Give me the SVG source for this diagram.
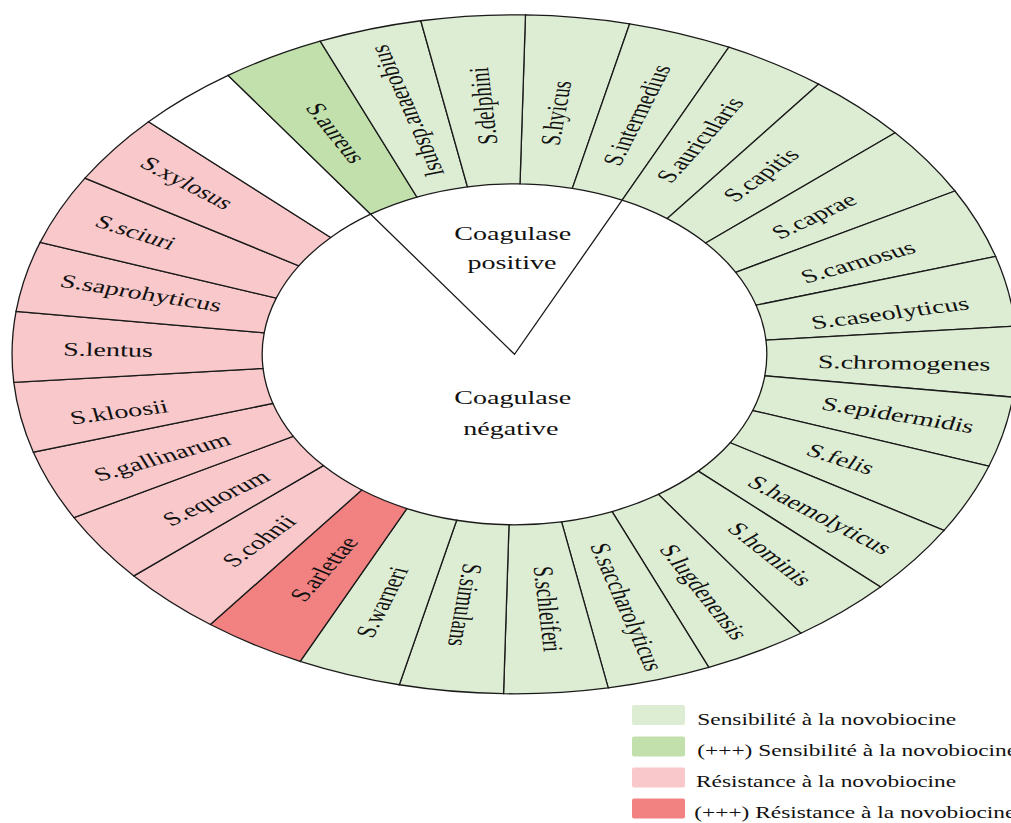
<svg xmlns="http://www.w3.org/2000/svg" width="1011" height="823" viewBox="0 0 1011 823">
  <style>
    .lbl { font-family: "Liberation Serif", "Times New Roman", serif; font-size: 19px; fill: #111; text-anchor: middle; dominant-baseline: central; }
    .cap { font-family: "Liberation Serif", "Times New Roman", serif; font-size: 19px; fill: #111; text-anchor: middle; }
    .leg { font-family: "Liberation Serif", "Times New Roman", serif; font-size: 15.8px; fill: #111; }
    .sens { fill: #DDEDD3; }
    .sens3 { fill: #C1E0AB; }
    .res { fill: #F8C8CA; }
    .res3 { fill: #F28282; }
    .empty { fill: #FFFFFF; }
    .conn { fill: none; stroke: #1a1a1a; stroke-width: 1.3; vector-effect: non-scaling-stroke; }
  </style>
  <defs>
    <!-- one 12-degree ring sector of the unit donut (outer r 339.5, inner r 170.5) -->
    <path id="wedge" d="M0,-339.5 A339.5,339.5 0 0 1 70.586,-332.081 L35.449,-166.774 A170.5,170.5 0 0 0 0,-170.5 Z" stroke="#1a1a1a" stroke-width="1.3" vector-effect="non-scaling-stroke"/>
  </defs>
  <rect width="1011" height="823" fill="#FFFFFF"/>

  <!-- donut: drawn as a circle, stretched horizontally -->
  <g id="ring" transform="translate(514.5 354.3) scale(1.48 1)">
    <g id="seg-hyicus"><use href="#wedge" class="sens" transform="rotate(1.25)"/><text class="lbl" transform="translate(28.04 -241.3) rotate(-82.75)">S.hyicus</text></g>
    <g id="seg-intermedius"><use href="#wedge" class="sens" transform="rotate(13.25)"/><text class="lbl" transform="translate(82.57 -239.3) rotate(-70.75)">S.intermedius</text></g>
    <g id="seg-auricularis"><use href="#wedge" class="sens" transform="rotate(25.25)"/><text class="lbl" transform="translate(125.34 -214.3) rotate(-58.75)">S.auricularis</text></g>
    <g id="seg-capitis"><use href="#wedge" class="sens" transform="rotate(37.25)"/><text class="lbl" transform="translate(166.55 -179.3) rotate(-46.75)">S.capitis</text></g>
    <g id="seg-caprae"><use href="#wedge" class="sens" transform="rotate(49.25)"/><text class="lbl" transform="translate(202.36 -138.3) rotate(-34.75)">S.caprae</text></g>
    <g id="seg-carnosus"><use href="#wedge" class="sens" transform="rotate(61.25)"/><text class="lbl" transform="translate(232.09 -92.3) rotate(-22.75)">S.carnosus</text></g>
    <g id="seg-caseolyticus"><use href="#wedge" class="sens" transform="rotate(73.25)"/><text class="lbl" transform="translate(253.72 -41.3) rotate(-10.75)">S.caseolyticus</text></g>
    <g id="seg-chromogenes"><use href="#wedge" class="sens" transform="rotate(85.25)"/><text class="lbl" transform="translate(263.3 8.7) rotate(1.25)">S.chromogenes</text></g>
    <g id="seg-epidermidis"><use href="#wedge" class="sens" transform="rotate(97.25)"/><text class="lbl" transform="translate(259.12 60.7) rotate(13.25)">S.epidermidis</text></g>
    <g id="seg-felis"><use href="#wedge" class="sens" transform="rotate(109.25)"/><text class="lbl" transform="translate(220.41 104.7) rotate(25.25)">S.felis</text></g>
    <g id="seg-haemolyticus"><use href="#wedge" class="sens" transform="rotate(121.25)"/><text class="lbl" transform="translate(206.42 160.7) rotate(37.25)">S.haemolyticus</text></g>
    <g id="seg-hominis"><use href="#wedge" class="sens" transform="rotate(133.25)"/><text class="lbl" transform="translate(172.64 199.7) rotate(49.25)">S.hominis</text></g>
    <g id="seg-lugdenensis"><use href="#wedge" class="sens" transform="rotate(145.25)"/><text class="lbl" transform="translate(128.04 237.7) rotate(61.25)">S.lugdenensis</text></g>
    <g id="seg-saccharolyticus"><use href="#wedge" class="sens" transform="rotate(157.25)"/><text class="lbl" transform="translate(76.01 252.7) rotate(73.25)">S.saccharolyticus</text></g>
    <g id="seg-schleiferi"><use href="#wedge" class="sens" transform="rotate(169.25)"/><text class="lbl" transform="translate(22.64 254.7) rotate(85.25)">S.schleiferi</text></g>
    <g id="seg-simulans"><use href="#wedge" class="sens" transform="rotate(181.25)"/><text class="lbl" transform="translate(-33.45 250.7) rotate(97.25)">S.simulans</text></g>
    <g id="seg-warneri"><use href="#wedge" class="sens" transform="rotate(193.25)"/><text class="lbl" transform="translate(-89.53 247.7) rotate(-70.75)">S.warneri</text></g>
    <g id="seg-arlettae"><use href="#wedge" class="res3" transform="rotate(205.25)"/><text class="lbl" transform="translate(-128.72 214.7) rotate(-58.75)">S.arlettae</text></g>
    <g id="seg-cohnii"><use href="#wedge" class="res" transform="rotate(217.25)"/><text class="lbl" transform="translate(-172.64 186.7) rotate(-46.75)">S.cohnii</text></g>
    <g id="seg-equorum"><use href="#wedge" class="res" transform="rotate(229.25)"/><text class="lbl" transform="translate(-201.69 143.7) rotate(-34.75)">S.equorum</text></g>
    <g id="seg-gallinarum"><use href="#wedge" class="res" transform="rotate(241.25)"/><text class="lbl" transform="translate(-238.18 102.7) rotate(-22.75)">S.gallinarum</text></g>
    <g id="seg-kloosii"><use href="#wedge" class="res" transform="rotate(253.25)"/><text class="lbl" transform="translate(-267.23 57.7) rotate(-10.75)">S.kloosii</text></g>
    <g id="seg-lentus"><use href="#wedge" class="res" transform="rotate(265.25)"/><text class="lbl" transform="translate(-274.66 -4.5) rotate(1.25)">S.lentus</text></g>
    <g id="seg-saprohyticus"><use href="#wedge" class="res" transform="rotate(277.25)"/><text class="lbl" transform="translate(-252.36 -61.3) rotate(13.25)">S.saprohyticus</text></g>
    <g id="seg-sciuri"><use href="#wedge" class="res" transform="rotate(289.25)"/><text class="lbl" transform="translate(-255.95 -122) rotate(25.25)">S.sciuri</text></g>
    <g id="seg-xylosus"><use href="#wedge" class="res" transform="rotate(301.25)"/><text class="lbl" transform="translate(-221.28 -171.3) rotate(37.25)">S.xylosus</text></g>
    <g id="seg-empty"><use href="#wedge" class="empty" transform="rotate(313.25)"/></g>
    <g id="seg-aureus"><use href="#wedge" class="sens3" transform="rotate(325.25)"/><text class="lbl" transform="translate(-120.61 -221.3) rotate(61.25)">S.aureus</text></g>
    <g id="seg-anaerobius"><use href="#wedge" class="sens" transform="rotate(337.25)"/><text class="lbl" transform="translate(-72.84 -243.6) rotate(-106.75)">lsubsp.anaerobius</text></g>
    <g id="seg-delphini"><use href="#wedge" class="sens" transform="rotate(349.25)"/><text class="lbl" transform="translate(-21.08 -248.3) rotate(-94.75)">S.delphini</text></g>

    <!-- centre captions -->
    <g id="coag-pos">
      <text class="cap" x="-1.2" y="-114.5">Coagulase</text>
      <text class="cap" x="-1.7" y="-85.5">positive</text>
    </g>
    <g id="coag-neg">
      <text class="cap" x="-1.2" y="50">Coagulase</text>
      <text class="cap" x="-2.5" y="80.7">négative</text>
    </g>

    <!-- wedge marking the coagulase-positive group -->
    <g id="connectors">
      <polyline class="conn" points="-97.18,-140.09 0,0 72.73,-154.21"/>
    </g>
  </g>

  <!-- legend -->
  <g id="legend">
    <g id="leg-sens">
      <rect x="632" y="705" width="53" height="20" rx="2" class="sens"/>
      <text class="leg" transform="translate(697.3 725) scale(1.48 1)">Sensibilité à la novobiocine</text>
    </g>
    <g id="leg-sens3">
      <rect x="632" y="736.5" width="53" height="20" rx="2" class="sens3"/>
      <text class="leg" transform="translate(697.3 756) scale(1.48 1)">(+++) Sensibilité à la novobiocine</text>
    </g>
    <g id="leg-res">
      <rect x="632" y="767.5" width="53" height="20" rx="2" class="res"/>
      <text class="leg" transform="translate(696 787) scale(1.48 1)">Résistance à la novobiocine</text>
    </g>
    <g id="leg-res3">
      <rect x="632" y="798.5" width="53" height="20" rx="2" class="res3"/>
      <text class="leg" transform="translate(694.3 818) scale(1.48 1)">(+++) Résistance à la novobiocine</text>
    </g>
  </g>
</svg>
